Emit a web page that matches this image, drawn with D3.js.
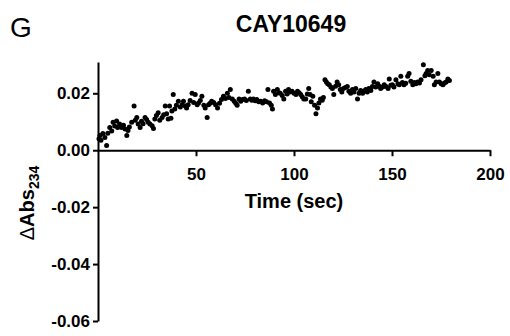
<!DOCTYPE html>
<html>
<head>
<meta charset="utf-8">
<script src="https://cdn.jsdelivr.net/npm/d3@7"></script>
<style>
  body { margin: 0; background: #fff; }
  svg { display: block; font-family: "Liberation Sans", Arial, sans-serif; }
  .axis path, .axis line { stroke: #000; stroke-width: 2; }
  .axis text { font-size: 17px; font-weight: bold; fill: #000; }
</style>
</head>
<body>
<div id="chart"></div>
<script>
// time (sec) and delta absorbance at 234 nm
const timeSec = [
  0.5, 1, 1.5, 2.5, 3.5, 4.4, 5, 6, 7, 7.7, 8.5, 9.5, 10, 11, 12, 13, 13.8, 14.7, 15.3, 16,
  17.2, 18.4, 19, 19.8, 20.5, 21.5, 22.2, 23, 24, 24.8, 25.6, 26.5, 27.6, 28.3, 29, 29.8, 30.7, 31.5, 32.7, 33.5,
  34.3, 35, 35.8, 36.5, 37.2, 37.7, 38.4, 39.2, 40, 41, 42, 43, 43.6, 44.5, 45.2, 46, 47, 48, 48.8, 49.6,
  50.6, 51.3, 52.2, 53, 54, 54.7, 55.7, 56.4, 57.2, 58, 59, 60, 61, 62, 63, 64, 65, 66, 66.8, 67.5,
  68.5, 69.5, 70.3, 71, 72, 72.8, 73.8, 74.8, 75.7, 76.7, 77.7, 78.5, 79.3, 80.2, 81, 82, 83, 84, 85, 86,
  86.7, 87.5, 88.4, 89, 89.6, 90.5, 91.5, 92.3, 93, 94, 94.8, 95.7, 96.5, 97.2, 98, 99, 100, 101, 101.8, 102.6,
  103.4, 104.2, 105, 106, 106.8, 107.5, 108.2, 108.8, 109.6, 110.5, 111.2, 112, 112.7, 113.5, 114.4, 115, 115.8, 116.5, 117.2, 118,
  118.8, 119.6, 120.3, 121.2, 122, 122.8, 123.6, 124.4, 125.2, 126.2, 127.2, 128, 128.9, 129.8, 130.6, 131.5, 132.4, 133.2, 134, 135,
  135.8, 136.6, 137.4, 138.2, 139.2, 140, 140.8, 141.7, 142.7, 143.5, 144.2, 145.2, 146, 147, 148, 148.6, 149.4, 150.2, 151, 152,
  153, 153.7, 154.5, 155.3, 156.1, 157, 158, 158.7, 159.6, 160.6, 161.4, 162.2, 163.1, 164, 164.8, 166, 166.8, 167.4, 168.2, 169,
  170, 171, 171.6, 172.5, 173.4, 174.2, 175.1, 176, 176.8, 177.6, 178.5, 179.3
];
const deltaAbs = [
  0.0040, 0.0052, 0.0035, 0.0059, 0.0045, 0.0017, 0.0060, 0.0080, 0.0068, 0.0098, 0.0085, 0.0103, 0.0080, 0.0092, 0.0080, 0.0088, 0.0075, 0.0052, 0.0069, 0.0082,
  0.0098, 0.0155, 0.0105, 0.0115, 0.0092, 0.0080, 0.0102, 0.0093, 0.0115, 0.0108, 0.0098, 0.0092, 0.0086, 0.0076, 0.0110, 0.0122, 0.0132, 0.0105, 0.0115, 0.0125,
  0.0155, 0.0128, 0.0110, 0.0155, 0.0112, 0.0138, 0.0196, 0.0145, 0.0158, 0.0172, 0.0152, 0.0160, 0.0172, 0.0155, 0.0148, 0.0160, 0.0175, 0.0200, 0.0168, 0.0196,
  0.0160, 0.0166, 0.0175, 0.0190, 0.0158, 0.0148, 0.0115, 0.0160, 0.0165, 0.0172, 0.0168, 0.0160, 0.0148, 0.0165, 0.0178, 0.0190, 0.0182, 0.0200, 0.0185, 0.0213,
  0.0180, 0.0172, 0.0165, 0.0158, 0.0180, 0.0172, 0.0178, 0.0180, 0.0175, 0.0207, 0.0180, 0.0176, 0.0180, 0.0174, 0.0178, 0.0170, 0.0172, 0.0166, 0.0174, 0.0170,
  0.0213, 0.0166, 0.0158, 0.0145, 0.0207, 0.0196, 0.0213, 0.0202, 0.0200, 0.0192, 0.0180, 0.0207, 0.0198, 0.0213, 0.0205, 0.0207, 0.0200, 0.0196, 0.0207, 0.0202,
  0.0196, 0.0188, 0.0180, 0.0180, 0.0198, 0.0217, 0.0196, 0.0170, 0.0190, 0.0158, 0.0128, 0.0148, 0.0166, 0.0180, 0.0176, 0.0185, 0.0248, 0.0240, 0.0234, 0.0230,
  0.0222, 0.0217, 0.0196, 0.0225, 0.0240, 0.0230, 0.0213, 0.0205, 0.0217, 0.0220, 0.0224, 0.0207, 0.0200, 0.0213, 0.0205, 0.0217, 0.0180, 0.0200, 0.0210, 0.0200,
  0.0208, 0.0213, 0.0205, 0.0217, 0.0210, 0.0224, 0.0240, 0.0222, 0.0234, 0.0225, 0.0217, 0.0222, 0.0230, 0.0224, 0.0217, 0.0250, 0.0228, 0.0230, 0.0222, 0.0248,
  0.0234, 0.0230, 0.0260, 0.0238, 0.0230, 0.0235, 0.0260, 0.0270, 0.0242, 0.0230, 0.0238, 0.0234, 0.0240, 0.0236, 0.0248, 0.0300, 0.0262, 0.0270, 0.0280, 0.0265,
  0.0280, 0.0260, 0.0230, 0.0240, 0.0270, 0.0240, 0.0234, 0.0230, 0.0236, 0.0240, 0.0250, 0.0245
];
const xTicks = [50, 100, 150, 200];
const yTicks = [-0.06, -0.04, -0.02, 0.00, 0.02];

const panelLabel = 'G';
const chartTitle = 'CAY10649';
const xLabel = 'Time (sec)';

const width = 510;
const height = 336;

const svg = d3.select('#chart').append('svg')
    .attr('width', width)
    .attr('height', height);

const x = d3.scaleLinear()
    .domain([0, 200])
    .range([98, 490]);
const y = d3.scaleLinear()
    .domain([-0.06, 0.031])
    .range([321, 62]);

// Y axis
svg.append('g')
    .attr('class', 'axis')
    .attr('transform', 'translate(' + x(0) + ',0)')
    .call(d3.axisLeft(y)
      .tickValues(yTicks)
      .tickFormat(d => d.toFixed(2))
      .tickSize(5)
      .tickSizeOuter(0)
      .tickPadding(3));

// X axis sits on y = 0
svg.append('g')
    .attr('class', 'axis')
    .attr('transform', 'translate(0,' + y(0) + ')')
    .call(d3.axisBottom(x)
      .tickValues(xTicks)
      .tickSize(6)
      .tickSizeOuter(0)
      .tickPadding(12));

// points
const data = timeSec.map((t, i) => ({t: t, v: deltaAbs[i]}));
svg.append('g')
  .selectAll('circle')
  .data(data)
  .enter().append('circle')
    .attr('cx', d => x(d.t))
    .attr('cy', d => y(d.v))
    .attr('r', 2.5)
    .attr('fill', '#000');

// labels
svg.append('text')
    .attr('x', 10)
    .attr('y', 37)
    .style('font-size', '28px')
    .text(panelLabel);

svg.append('text')
    .attr('x', 291)
    .attr('y', 32)
    .attr('text-anchor', 'middle')
    .style('font-size', '23px')
    .style('font-weight', 'bold')
    .text(chartTitle);

svg.append('text')
    .attr('x', x(100))
    .attr('y', 208)
    .attr('text-anchor', 'middle')
    .style('font-size', '20px')
    .style('font-weight', 'bold')
    .text(xLabel);

const yLab = svg.append('text')
    .attr('transform', 'translate(34,203) rotate(-90)')
    .attr('text-anchor', 'middle')
    .style('font-size', '20px')
    .style('font-weight', 'bold');
yLab.append('tspan')
    .style('font-weight', 'normal')
    .text('\u0394');
yLab.append('tspan').text('Abs');
yLab.append('tspan')
    .attr('dy', 5)
    .style('font-size', '14px')
    .text('234');
</script>
</body>
</html>
